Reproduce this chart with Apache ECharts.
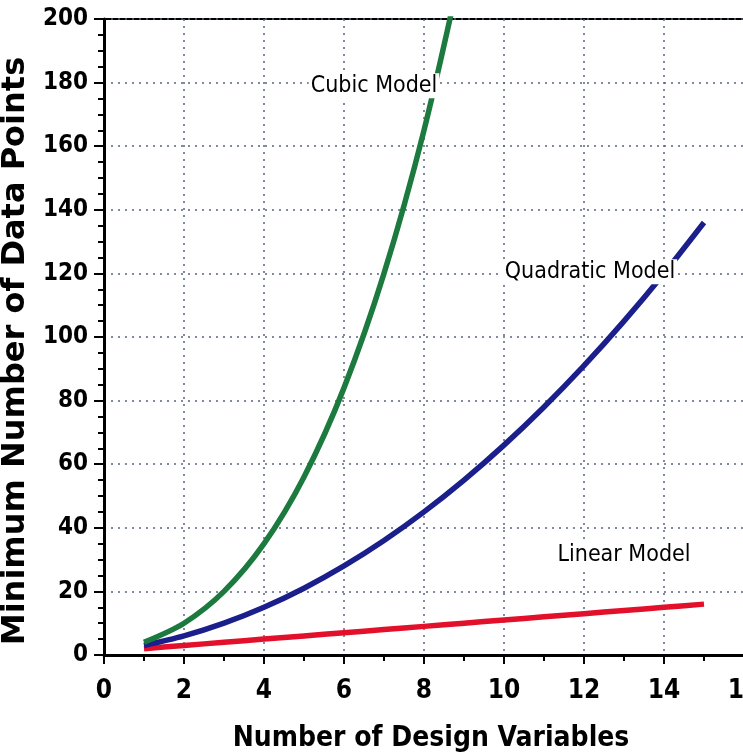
<!DOCTYPE html>
<html><head><meta charset="utf-8">
<script src="https://cdn.jsdelivr.net/npm/echarts@6/dist/echarts.min.js"></script>
<style>html,body{margin:0;padding:0;background:#fff}#c{width:743px;height:754px}</style>
</head><body><div id="c"></div>
<script>
const designVars = [1,2,3,4,5,6,7,8,9,10,11,12,13,14,15];
const linearPts = [2,3,4,5,6,7,8,9,10,11,12,13,14,15,16];
const quadraticPts = [3,6,10,15,21,28,36,45,55,66,78,91,105,120,136];
const cubicPts = [4,10,20,35,56,84,120,165,220];
const labels = [
  {name:'Cubic Model', x:6.75, y:179},
  {name:'Quadratic Model', x:12.15, y:120.5},
  {name:'Linear Model', x:13.0, y:31.5}
];
const pair = (xs, ys) => ys.map((v,i)=>[xs[i], v]);
const F = '"Liberation Sans Narrow","DejaVu Sans Condensed",sans-serif';
const chart = echarts.init(document.getElementById('c'));
const splitLine = {show:true,lineStyle:{color:'#5a6480',type:[2,5],width:1.5}};
const axisLine = {show:true,lineStyle:{color:'#000',width:3}};
const axisTick = {show:true,inside:false,length:10,lineStyle:{color:'#000',width:2}};
function mp(lbl){
  return {symbol:'rect',symbolSize:1,itemStyle:{color:'rgba(0,0,0,0)'},z:10,silent:true,
    data:[{coord:[lbl.x,lbl.y]}],
    label:{show:true,position:'inside',formatter:lbl.name,color:'#000',fontFamily:F,fontSize:23,
      backgroundColor:'#fff',padding:[1,2]}};
}
chart.setOption({
  animation:false,
  grid:{left:104,right:-1,top:19,bottom:99,outerBoundsMode:'none',containLabel:false},
  xAxis:{type:'value',min:0,max:16,interval:2,
    name:'Number of Design Variables',nameLocation:'middle',nameGap:70,
    nameTextStyle:{color:'#000',fontFamily:F,fontWeight:'bold',fontSize:28,padding:[0,0,0,14]},
    axisLine, axisTick:Object.assign({},axisTick,{length:9}),
    minorTick:{show:true,splitNumber:2,length:6,lineStyle:{color:'#000',width:2}},
    splitLine,
    axisLabel:{color:'#000',fontFamily:F,fontWeight:'bold',fontSize:26,margin:23,showMaxLabel:true,hideOverlap:false}},
  yAxis:{type:'value',min:0,max:200,interval:20,
    name:'Minimum Number of Data Points',nameLocation:'middle',nameGap:72,
    nameTextStyle:{color:'#000',fontFamily:'"DejaVu Sans",sans-serif',fontWeight:'bold',fontSize:32,padding:[0,28,0,0]},
    axisLine, axisTick,
    minorTick:{show:true,splitNumber:4,length:6,lineStyle:{color:'#000',width:2}},
    splitLine,
    axisLabel:{color:'#000',fontFamily:F,fontWeight:'bold',fontSize:24,margin:16}},
  graphic:[{type:'line',shape:{x1:104,y1:19,x2:743,y2:19},style:{stroke:'#000',lineWidth:2}}],
  series:[
    {type:'line',data:pair(designVars,linearPts),smooth:0.3,symbol:'none',clip:true,
     lineStyle:{color:'#e3102b',width:5.5},z:3,markPoint:mp(labels[2])},
    {type:'line',data:pair(designVars,quadraticPts),smooth:0.3,symbol:'none',clip:true,
     lineStyle:{color:'#1b1f8c',width:5.5},z:3,markPoint:mp(labels[1])},
    {type:'line',data:pair(designVars.slice(0,cubicPts.length),cubicPts),smooth:0.3,symbol:'none',clip:true,
     lineStyle:{color:'#1c7a3e',width:5.5},z:3,markPoint:mp(labels[0])}
  ]
});
</script></body></html>
